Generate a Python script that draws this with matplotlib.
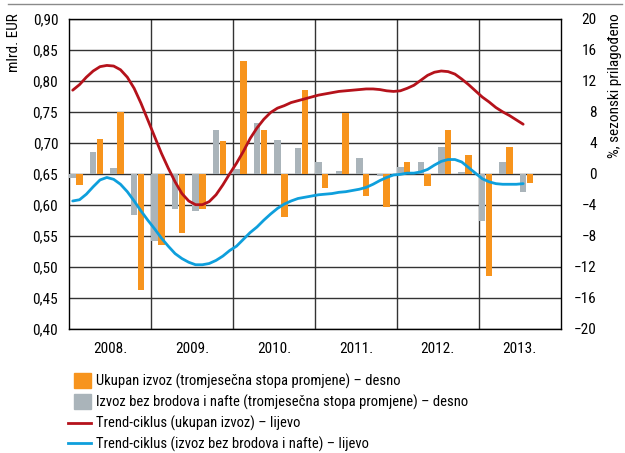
import matplotlib
matplotlib.use("Agg")
import matplotlib.pyplot as plt
import matplotlib.patches as mpatches
from matplotlib.lines import Line2D
from matplotlib.legend_handler import HandlerPatch

plt.rcParams['font.family'] = ['Roboto Condensed', 'DejaVu Sans']

years = ['2008.', '2009.', '2010.', '2011.', '2012.', '2013.']

# quarterly rates of change, % (right axis), 2008 Q1 .. 2013 Q3
ukupan_q = [-1.4, 4.5, 8.0, -15.0,
            -9.2, -7.7, -4.5, 4.2,
            14.6, 5.7, -5.6, 10.8,
            -1.9, 7.8, -2.9, -4.3,
            1.5, -1.6, 5.6, 2.4,
            -13.2, 3.5, -1.2]
bez_q = [-0.6, 2.8, 0.7, -5.3,
         -8.7, -4.5, -4.8, 5.7,
         0.6, 6.5, 4.3, 3.3,
         1.5, 0.3, 2.1, -0.3,
         0.9, 1.5, 3.5, 0.2,
         -6.1, 1.5, -2.3]

# monthly trend-cycle, bn EUR (left axis), Jan 2008 .. Jul 2013
trend_ukupan = [0.785, 0.794, 0.806, 0.816, 0.823, 0.825, 0.824, 0.818, 0.806, 0.788, 0.764, 0.737,
                0.710, 0.683, 0.659, 0.637, 0.618, 0.606, 0.600, 0.600, 0.605, 0.616, 0.632, 0.650,
                0.667, 0.686, 0.707, 0.724, 0.738, 0.749, 0.756, 0.760, 0.765, 0.768, 0.771, 0.774,
                0.777, 0.779, 0.781, 0.783, 0.784, 0.785, 0.786, 0.787, 0.787, 0.786, 0.784, 0.783,
                0.784, 0.788, 0.793, 0.801, 0.809, 0.814, 0.816, 0.815, 0.811, 0.803, 0.794, 0.784,
                0.774, 0.766, 0.757, 0.750, 0.744, 0.737, 0.730]
trend_bez = [0.606, 0.608, 0.617, 0.629, 0.640, 0.644, 0.641, 0.633, 0.621, 0.606, 0.590, 0.575,
             0.561, 0.546, 0.533, 0.521, 0.513, 0.507, 0.503, 0.503, 0.505, 0.510, 0.517, 0.526,
             0.533, 0.544, 0.555, 0.564, 0.575, 0.585, 0.594, 0.601, 0.606, 0.610, 0.612, 0.614,
             0.616, 0.617, 0.618, 0.620, 0.621, 0.623, 0.625, 0.628, 0.633, 0.639, 0.644, 0.648,
             0.649, 0.651, 0.651, 0.653, 0.657, 0.664, 0.670, 0.673, 0.673, 0.669, 0.660, 0.651,
             0.642, 0.637, 0.634, 0.633, 0.633, 0.633, 0.634]

left_ticks = [0.40, 0.45, 0.50, 0.55, 0.60, 0.65, 0.70, 0.75, 0.80, 0.85, 0.90]
left_labels = ['0,40', '0,45', '0,50', '0,55', '0,60', '0,65', '0,70', '0,75', '0,80', '0,85', '0,90']
right_ticks = [-20, -16, -12, -8, -4, 0, 4, 8, 12, 16, 20]

ORANGE = '#f7941d'
GRAY = '#aab4ba'
RED = '#b5121b'
BLUE = '#0e9fdc'
GRID = '#333333'
FS = 10.5
TICK_FS = 11

fig = plt.figure(figsize=(6.25, 4.53), dpi=100)
ax = fig.add_axes([69.3 / 625, 1 - 328.5 / 453, (560.7 - 69.3) / 625, (328.5 - 19) / 453])
ax2 = ax.twinx()

# bars: gray at first month of the quarter, orange at the second
x_gray = [3 * i + 0.5 for i in range(len(bez_q))]
x_orange = [3 * i + 1.5 for i in range(len(ukupan_q))]
ax.bar(x_gray, bez_q, width=0.95, color=GRAY, zorder=3)
ax.bar(x_orange, ukupan_q, width=0.95, color=ORANGE, zorder=3)

ax.set_xlim(0, 72)
ax.set_ylim(-20, 20)
ax.yaxis.tick_right()
ax.set_yticks(right_ticks)
ax.set_yticklabels([str(t).replace('-', '\u2212') for t in right_ticks], ha='right')
ax.tick_params(axis='y', length=0, pad=26, labelsize=TICK_FS)
ax.set_xticks([12, 24, 36, 48, 60])
ax.set_xticklabels([])
ax.set_xticks([6 + 12 * k for k in range(6)], minor=True)
ax.set_xticklabels(years, minor=True)
ax.tick_params(axis='x', which='both', length=0, pad=10, labelsize=TICK_FS)
ax.grid(True, which='major', color=GRID, linewidth=1.0, zorder=1)
ax.set_axisbelow(True)
for s in ax.spines.values():
    s.set_color('black')
    s.set_linewidth(1.0)

months = [m + 0.5 for m in range(len(trend_ukupan))]
ax2.plot(months, trend_ukupan, color=RED, linewidth=2.0, solid_capstyle='round')
ax2.plot(months, trend_bez, color=BLUE, linewidth=2.0, solid_capstyle='round')
ax2.set_ylim(0.40, 0.90)
ax2.yaxis.tick_left()
ax2.set_yticks(left_ticks)
ax2.set_yticklabels(left_labels)
ax2.tick_params(axis='y', length=0, pad=8, labelsize=TICK_FS)
for s in ax2.spines.values():
    s.set_visible(False)

fig.text(14 / 625, 1 - 13 / 453, 'mlrd. EUR', rotation=90, ha='center', va='top', fontsize=11)
fig.text(615 / 625, 1 - 13 / 453, '%, sezonski prilagođeno', rotation=90, ha='center', va='top', fontsize=11)

fig.add_artist(Line2D([8 / 625, 622 / 625], [1 - 3.5 / 453] * 2, color='#8a8a8a', linewidth=1.0))


def small_box(legend, orig_handle, xdescent, ydescent, width, height, fontsize):
    w = 12.2
    h = 10.8
    return mpatches.Rectangle((width - w - xdescent, height / 2 - h / 2 - ydescent), w, h)


handles = [mpatches.Patch(color=ORANGE), mpatches.Patch(color=GRAY),
           Line2D([], [], color=RED, linewidth=2.0), Line2D([], [], color=BLUE, linewidth=2.0)]
labels = ['Ukupan izvoz (tromjesečna stopa promjene) – desno',
          'Izvoz bez brodova i nafte (tromjesečna stopa promjene) – desno',
          'Trend-ciklus (ukupan izvoz) – lijevo',
          'Trend-ciklus (izvoz bez brodova i nafte) – lijevo']
fig.legend(handles, labels, loc='upper left', bbox_to_anchor=(68 / 625, 1 - 374 / 453),
           frameon=False, fontsize=FS, borderpad=0, borderaxespad=0,
           handlelength=1.55, handletextpad=0.4, labelspacing=0.38,
           handler_map={mpatches.Patch: HandlerPatch(patch_func=small_box)})

fig.savefig('out.png', dpi=100)
